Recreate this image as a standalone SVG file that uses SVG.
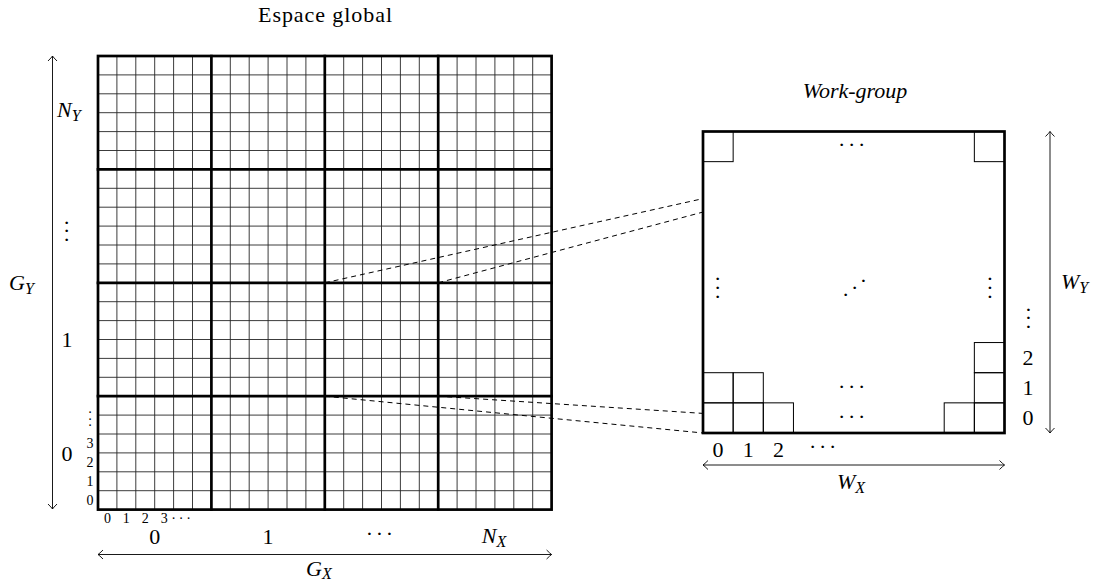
<svg xmlns="http://www.w3.org/2000/svg" width="1097" height="584" viewBox="0 0 1097 584" font-family="Liberation Serif, DejaVu Serif, serif">
<style>
text{font-family:"Liberation Serif","DejaVu Serif",serif}
.t{font-size:22px;fill:#000}
.i{font-style:italic}
.s{font-size:14px}
.sub{font-size:16px;font-style:italic}
.thin{fill:none;stroke:#262626;stroke-width:0.9}
.thick{fill:none;stroke:#000;stroke-width:2.7;stroke-linecap:square}
.dash{fill:none;stroke:#000;stroke-width:1;stroke-dasharray:5 4}
.dim{fill:none;stroke:#000;stroke-width:0.9;marker-start:url(#ah);marker-end:url(#ah)}
.cell{fill:none;stroke:#000;stroke-width:1}
</style>
<defs>
<marker id="ah" viewBox="-6 -6 8 12" refX="0" refY="0" markerWidth="8" markerHeight="12" orient="auto-start-reverse" markerUnits="userSpaceOnUse">
<path d="M-5,-4.5 Q-1.5,-1 0,0 Q-1.5,1 -5,4.5" fill="none" stroke="#000" stroke-width="0.9"/>
</marker>
</defs>
<rect width="1097" height="584" fill="#fff"/>

<text class="t" font-family="Liberation Serif" x="325" y="22" text-anchor="middle" textLength="134" lengthAdjust="spacing">Espace global</text>
<text class="t i" font-family="Liberation Serif" x="855" y="98" text-anchor="middle">Work-group</text>

<g id="global-grid">
<path class="thin" d="M116.9 56V509.6M135.8 56V509.6M154.7 56V509.6M173.6 56V509.6M192.5 56V509.6M230.3 56V509.6M249.2 56V509.6M268.1 56V509.6M287 56V509.6M305.9 56V509.6M343.7 56V509.6M362.6 56V509.6M381.5 56V509.6M400.4 56V509.6M419.3 56V509.6M457.1 56V509.6M476 56V509.6M494.9 56V509.6M513.8 56V509.6M532.7 56V509.6"/>
<path class="thin" d="M98 74.9H551.6M98 93.8H551.6M98 112.7H551.6M98 131.6H551.6M98 150.5H551.6M98 188.3H551.6M98 207.2H551.6M98 226.1H551.6M98 245H551.6M98 263.9H551.6M98 301.7H551.6M98 320.6H551.6M98 339.5H551.6M98 358.4H551.6M98 377.3H551.6M98 415.1H551.6M98 434H551.6M98 452.9H551.6M98 471.8H551.6M98 490.7H551.6"/>
<rect class="thick" x="98" y="56" width="453.6" height="453.6"/>
<path class="thick" d="M211.4 56V509.6M324.8 56V509.6M438.2 56V509.6M98 169.4H551.6M98 282.8H551.6M98 396.2H551.6"/>
</g>

<g id="global-labels">
<text class="t i" x="57" y="117.3">N<tspan class="sub" dy="4">Y</tspan></text>
<text class="t" x="66.7 66.7 66.7" y="229.7 238 247.4" text-anchor="middle">···</text>
<text class="t" x="67" y="346.7" text-anchor="middle">1</text>
<text class="t" x="67" y="460.5" text-anchor="middle">0</text>
<text class="t s" x="90 90 90" y="416.9 423.6 430.3" text-anchor="middle">···</text>
<text class="t s" x="90" y="448.1" text-anchor="middle">3</text>
<text class="t s" x="90" y="467" text-anchor="middle">2</text>
<text class="t s" x="90" y="485.9" text-anchor="middle">1</text>
<text class="t s" x="90" y="504.8" text-anchor="middle">0</text>
<text class="t s" x="107.45" y="523" text-anchor="middle">0</text>
<text class="t s" x="126.35" y="523" text-anchor="middle">1</text>
<text class="t s" x="145.25" y="523" text-anchor="middle">2</text>
<text class="t s" x="164.15 173.5 181 188.5" y="523 522.6 522.6 522.6" text-anchor="middle">3···</text>
<text class="t" x="154.7" y="544" text-anchor="middle">0</text>
<text class="t" x="268.1" y="544" text-anchor="middle">1</text>
<text class="t" x="369.3 379.3 389.3" y="540.7" text-anchor="middle">···</text>
<text class="t i" x="481.7" y="543.3">N<tspan class="sub" dy="4">X</tspan></text>
<text class="t i" x="9" y="290">G<tspan class="sub" dy="4">Y</tspan></text>
<text class="t i" x="306" y="576">G<tspan class="sub" dy="3">X</tspan></text>
</g>

<g id="connectors">
<path class="dash" d="M324.8 282.8L1004.5 131.5"/>
<path class="dash" d="M438.2 282.8L1004.5 131.5"/>
<path class="dash" d="M324.8 396.2L703 433"/>
<path class="dash" d="M438.2 396.2L1004.5 433"/>
</g>

<g id="dimensions">
<path class="dim" d="M52.5 56V509"/>
<path class="dim" d="M98 554.5H551.6"/>
<path class="dim" d="M703 465H1004.5"/>
<path class="dim" d="M1050 131.5V433"/>
</g>

<g id="workgroup">
<rect x="703" y="131.5" width="301.5" height="301.5" fill="#fff"/>
<rect class="cell" x="703" y="131.5" width="30.15" height="30.15"/>
<rect class="cell" x="974.35" y="131.5" width="30.15" height="30.15"/>
<rect class="cell" x="703" y="402.85" width="30.15" height="30.15"/>
<rect class="cell" x="733.15" y="402.85" width="30.15" height="30.15"/>
<rect class="cell" x="763.3" y="402.85" width="30.15" height="30.15"/>
<rect class="cell" x="944.2" y="402.85" width="30.15" height="30.15"/>
<rect class="cell" x="974.35" y="402.85" width="30.15" height="30.15"/>
<rect class="cell" x="703" y="372.7" width="30.15" height="30.15"/>
<rect class="cell" x="733.15" y="372.7" width="30.15" height="30.15"/>
<rect class="cell" x="974.35" y="372.7" width="30.15" height="30.15"/>
<rect class="cell" x="974.35" y="342.55" width="30.15" height="30.15"/>
<rect x="703" y="131.5" width="301.5" height="301.5" fill="none" stroke="#000" stroke-width="2.7"/>
<text class="t" x="841.7 851.7 861.7" y="151.7" text-anchor="middle">···</text>
<text class="t" x="717.7 717.7 717.7" y="286.4 295 304" text-anchor="middle">···</text>
<text class="t" x="990 990 990" y="286.4 295 304" text-anchor="middle">···</text>
<text class="t" x="845.7 854.7 863.3" y="302.4 295 288.4" text-anchor="middle">···</text>
<text class="t" x="841.7 851.7 861.7" y="394" text-anchor="middle">···</text>
<text class="t" x="841.7 851.7 861.7" y="424" text-anchor="middle">···</text>
</g>

<g id="workgroup-labels">
<text class="t" x="1028.3 1028.3 1028.3" y="316.7 325.4 334.4" text-anchor="middle">···</text>
<text class="t" x="1028" y="365.1" text-anchor="middle">2</text>
<text class="t" x="1028" y="395.3" text-anchor="middle">1</text>
<text class="t" x="1028" y="425.4" text-anchor="middle">0</text>
<text class="t" x="718.1" y="456.5" text-anchor="middle">0</text>
<text class="t" x="748.2" y="456.5" text-anchor="middle">1</text>
<text class="t" x="778.4" y="456.5" text-anchor="middle">2</text>
<text class="t" x="812.7 822.7 832.7" y="454" text-anchor="middle">···</text>
<text class="t i" x="837" y="489">W<tspan class="sub" dy="4">X</tspan></text>
<text class="t i" x="1061" y="289">W<tspan class="sub" dy="4">Y</tspan></text>
</g>
</svg>
